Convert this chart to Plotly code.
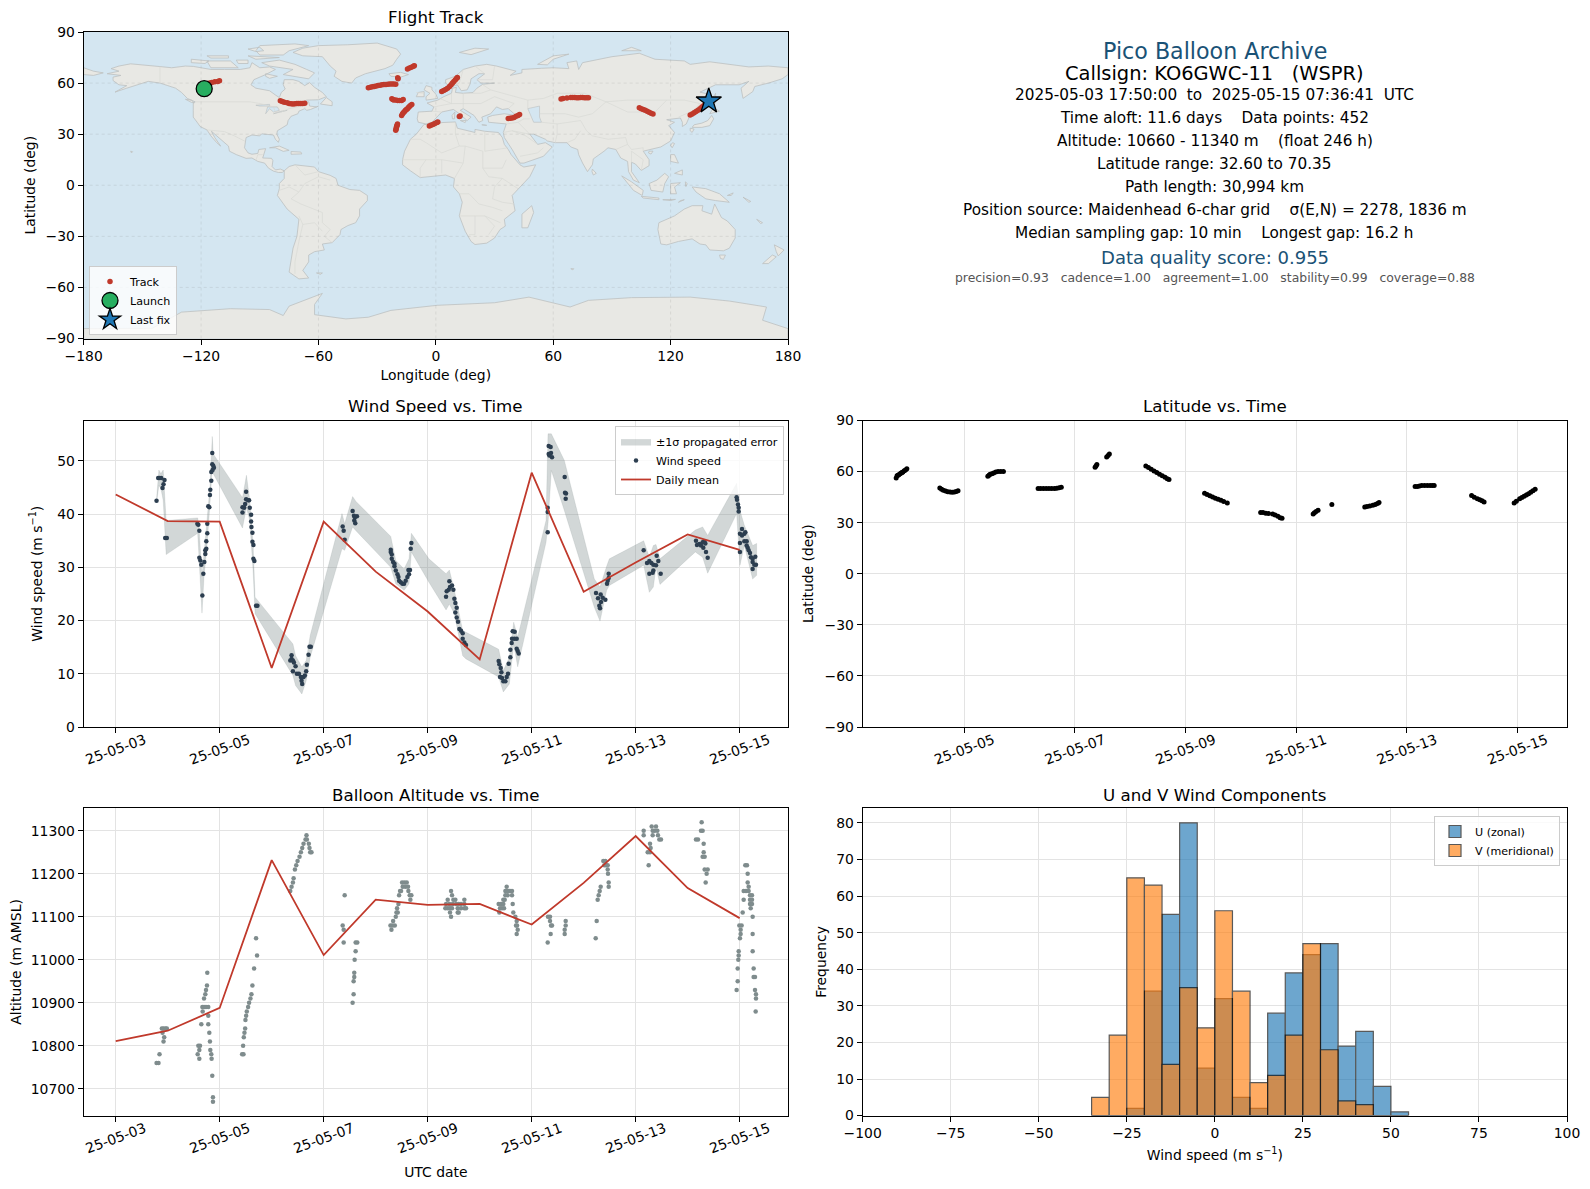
import pandas as pd
import plotly.graph_objects as go

# ------------------------------------------------------------------ data
t0 = pd.Timestamp("2025-05-03")
date_ticks = ["2025-05-%02d" % d for d in (3, 5, 7, 9, 11, 13, 15)]
map_lon_ticks = [-180, -120, -60, 0, 60, 120, 180]
lat_ticks = [-90, -60, -30, 0, 30, 60, 90]
mean_days = [0, 1, 2, 3, 4, 5, 6, 7, 8, 9, 10, 11, 12]
wind_mean = [43.7, 38.7, 38.6, 11.1, 38.6, 29.2, 21.7, 12.7, 47.8, 25.4, 30.9, 36.2, 33.3]
alt_mean = [10811, 10835, 10888, 11232, 11011, 11140, 11128, 11130, 11082, 11179, 11288, 11167, 11097]

band_days = [.785, .83, .868, .913, .97, 1.576, 1.602, 1.659, 1.698, 1.749, 1.812, 1.857, 1.876, 2.438, 2.514, 2.578,
             2.642, 2.68, 3.408, 3.459, 3.58, 3.663, 3.74, 4.352, 4.403, 4.556, 4.62, 5.29, 5.386, 5.546, 5.641, 5.686,
             6.024, 6.353, 6.417, 6.513, 6.673, 6.737, 7.365, 7.455, 7.571, 7.654, 7.731, 8.276, 8.314, 8.378, 8.628,
             9.205, 9.314, 9.442, 9.494, 10.154, 10.263, 10.34, 10.391, 10.468, 11.147, 11.288, 11.385, 11.942, 12.006,
             12.09, 12.25, 12.327]
band_high = [42.9, 48.3, 47.6, 48.3, 38.8, 39.3, 37.6, 28.2, 32.5, 38.8, 45.1, 54.6, 51.3, 43.1, 47.3, 42.6,
             34.4, 24.4, 15.6, 13.4, 11.3, 12.5, 17.2, 40.1, 38.2, 43.3, 42.4, 35.8, 31.3, 29.7, 31.6, 36.4,
             31.6, 28.8, 29.5, 25.7, 18.1, 17.8, 14.6, 10.6, 13.1, 19.7, 16.9, 38.8, 55.1, 55.1, 50.1,
             27.8, 26.3, 30.2, 31.6, 35, 31.9, 34.1, 34.3, 31.6, 37, 37.6, 36, 45.8, 40.7,
             37.9, 34.1, 34.5]
band_low = [42.1, 45.4, 44.8, 42.6, 32.4, 36.4, 31.9, 21.4, 28.2, 33.2, 41.9, 48.8, 47.6, 37.4, 41.3, 38.8,
            29.4, 21.3, 9.7, 7.8, 6.2, 8.7, 13.1, 33.5, 33.2, 37.6, 36.9, 30, 26.9, 25.7, 26.9, 32.9,
            27.2, 22, 23.1, 21.3, 13.4, 12.8, 9.4, 6.6, 8.1, 15.6, 11.3, 34.7, 38.2, 48.2, 40.7,
            22.5, 19.9, 25.7, 26.6, 30.4, 25.3, 26.3, 30, 26.8, 32.9, 31.9, 28.9, 40.1, 30.4,
            34.1, 27.8, 28.5]

wind_days = [.785, .817, .842, .874, .938, .919, .9, .951, .983, 1.57, 1.589, 1.608, 1.608, 1.627, 1.646, 1.666, 1.685,
             1.704, 1.723, 1.723, 1.742, 1.742, 1.761, 1.761, 1.78, 1.8, 1.812, 1.819, 1.838, 1.838, 1.857, 1.857, 1.876,
             1.889, 1.863,
             2.438, 2.438, 2.47, 2.489, 2.508, 2.508, 2.546, 2.565, 2.578, 2.604, 2.604, 2.61, 2.629, 2.629, 2.648, 2.648,
             2.667, 2.699, 2.725,
             3.357, 3.382, 3.382, 3.408, 3.427, 3.459, 3.408, 3.484, 3.523, 3.561, 3.574, 3.586, 3.612, 3.638, 3.663,
             3.676, 3.708, 3.727, 3.752,
             4.365, 4.384, 4.403, 4.556, 4.582, 4.601, 4.639, 4.588, 4.607,
             5.29, 5.29, 5.309, 5.309, 5.335, 5.361, 5.361, 5.386, 5.418, 5.437, 5.45, 5.482, 5.514, 5.546, 5.577, 5.609,
             5.641, 5.66, 5.629, 5.673, 5.686,
             6.353, 6.365, 6.404, 6.429, 6.417, 6.468, 6.494, 6.513, 6.532, 6.558, 6.532, 6.558, 6.583, 6.609, 6.641,
             6.673, 6.673, 6.705, 6.737,
             7.365, 7.378, 7.404, 7.417, 7.391, 7.429, 7.455, 7.494, 7.519, 7.545, 7.558, 7.59, 7.59, 7.615, 7.622, 7.667,
             7.712, 7.635, 7.673, 7.712, 7.731, 7.75,
             8.308, 8.308, 8.308, 8.327, 8.365, 8.327, 8.372, 8.34, 8.391, 8.635, 8.641, 8.66, 8.654,
             9.237, 9.276, 9.327, 9.365, 9.417, 9.333, 9.301, 9.314, 9.449, 9.462, 9.481, 9.481,
             10.154, 10.218, 10.263, 10.301, 10.34, 10.263, 10.327, 10.34, 10.391, 10.404, 10.436, 10.481,
             11.16, 11.179, 11.224, 11.256, 11.288, 11.321, 11.34, 11.301, 11.353, 11.385,
             11.942, 11.949, 11.968, 11.981, 11.981, 12.006, 12.006, 12.006, 12.045, 12.045, 12.09, 12.109, 12.09, 12.135,
             12.135, 12.154, 12.173, 12.199, 12.218, 12.25, 12.301, 12.25, 12.282, 12.314, 12.25]
wind_speed = [42.5, 46.8, 46.8, 46.8, 46.4, 45.6, 44.9, 35.5, 35.5, 38.2, 38, 36.9, 31.8, 31.3, 30.5, 24.7, 28.8,
              31, 32.5, 33.2, 33.5, 34.9, 36.4, 38.2, 41.5, 41.3, 43.6, 44.6, 46.3, 47.9, 51.5, 49.4, 49.1,
              48.7, 48.3,
              40.3, 41.3, 41.2, 41.9, 42.8, 44.2, 42.6, 42.6, 41.2, 39.9, 38.6, 37.6, 36.5, 34.8, 34.2, 31.6,
              31.2, 22.8, 22.8,
              12.5, 13.5, 12.8, 12.5, 12.1, 11.4, 10.5, 10, 10, 9.4, 8.7, 8.1, 9.4, 9.7, 10.5,
              11.7, 13.6, 15.1, 15.1,
              37.7, 36.9, 35.2, 40.6, 39.7, 39.4, 39.6, 38.8, 38.3,
              33.3, 32.9, 32.4, 31.6, 31, 30.7, 30.2, 29.4, 28.7, 28.2, 27.5, 27.2, 26.9, 26.9, 27.5, 28.2,
              28.7, 29.5, 29.5, 33.5, 34.6,
              24.5, 25.5, 25.8, 26.3, 27.4, 26.6, 25.8, 24.1, 23.3, 22.4, 21.5, 20.6, 19.8, 18.4, 18.1,
              17.6, 16.6, 15.9, 15.4,
              12.4, 11.8, 11.1, 10.3, 9.4, 9.2, 8.6, 8.6, 9.4, 10, 11.9, 13.1, 14.5, 15.8, 16.6, 16.6,
              16.6, 18, 17.9, 14.7, 14.3, 13.8,
              41.2, 40.4, 36.6, 52.8, 52.6, 51.3, 51.5, 51, 50.7, 47, 44, 43.9, 42.9,
              25.2, 24.2, 24.9, 24.3, 23.9, 23.5, 22.8, 22.3, 26.9, 27.5, 28.8, 28,
              33.2, 30.8, 31.2, 30.8, 30.5, 28.8, 29, 29.4, 30.4, 32.2, 31.2, 28.8,
              35, 34.2, 34.4, 34.1, 34.7, 34.9, 34.5, 33.7, 32.9, 31.8,
              43.2, 42.7, 41.8, 41.2, 40.5, 32.9, 36.3, 34.6, 37.2, 36, 36.3, 36.6, 34.9, 34.9,
              34.1, 33.7, 33.2, 32.7, 31.9, 31.6, 32, 31, 30.5, 30.5, 29.7]

alt_days = [.785, .823, .842, .887, .919, .957, .983, .9, .932, .919,
            1.576, 1.608, 1.589, 1.621, 1.608, 1.646, 1.672, 1.666, 1.698, 1.736, 1.78, 1.698, 1.723, 1.736, 1.755, 1.761,
            1.78, 1.78, 1.8, 1.812, 1.819, 1.838, 1.844, 1.857, 1.87, 1.87,
            2.431, 2.457, 2.45, 2.463, 2.476, 2.489, 2.495, 2.508, 2.521, 2.546, 2.565, 2.591, 2.61, 2.629, 2.661, 2.718, 2.699,
            3.357, 3.382, 3.408, 3.421, 3.446, 3.472, 3.497, 3.535, 3.561, 3.587, 3.612, 3.65, 3.676, 3.669, 3.714, 3.727,
            3.74, 3.765,
            4.403, 4.365, 4.384, 4.384, 4.614, 4.646, 4.614, 4.595, 4.588, 4.588, 4.575, 4.575, 4.556,
            5.303, 5.284, 5.322, 5.367, 5.335, 5.386, 5.399, 5.424, 5.411, 5.437, 5.45, 5.469, 5.488, 5.52, 5.571, 5.622,
            5.507, 5.552, 5.597, 5.629, 5.654, 5.686, 5.667,
            6.34, 6.385, 6.429, 6.468, 6.385, 6.353, 6.417, 6.481, 6.494, 6.532, 6.449, 6.468, 6.429, 6.449, 6.577, 6.596,
            6.545, 6.596, 6.641, 6.577, 6.641, 6.705, 6.737, 6.705, 6.705,
            7.378, 7.391, 7.429, 7.468, 7.365, 7.41, 7.455, 7.455, 7.481, 7.494, 7.538, 7.622, 7.494, 7.538, 7.583, 7.622,
            7.519, 7.635, 7.647, 7.686, 7.712, 7.699, 7.718, 7.731, 7.712,
            8.308, 8.365, 8.372, 8.391, 8.353, 8.314, 8.353, 8.635, 8.635, 8.654, 8.654,
            9.231, 9.25, 9.269, 9.288, 9.308, 9.327, 9.481, 9.481, 9.468, 9.462, 9.429, 9.462, 9.378, 9.417, 9.397,
            10.154, 10.154, 10.25, 10.231, 10.276, 10.276, 10.288, 10.308, 10.391, 10.327, 10.365, 10.417, 10.327, 10.429,
            10.455, 10.487,
            11.269, 11.256, 11.288, 11.16, 11.199, 11.308, 11.308, 11.288, 11.327, 11.327, 11.385, 11.365, 11.346,
            11.942, 11.962, 11.962, 11.974, 11.981, 11.981, 12.006, 12.019, 12.019, 11.994, 12.038, 12.058, 12.077, 12.077,
            12.122, 12.173, 12.109, 12.141, 12.154, 12.154, 12.173, 12.199, 12.237, 12.199, 12.237, 12.199, 12.237, 12.212,
            12.25, 12.25, 12.25, 12.269, 12.269, 12.295, 12.295, 12.314, 12.314, 12.308]
alt_m = [10760, 10760, 10780, 10840, 10840, 10840, 10840, 10830, 10820, 10810,
         10780, 10770, 10800, 10800, 10790, 10850, 10880, 10890, 10890, 10890, 10890, 10910, 10920, 10930, 10940, 10970,
         10870, 10850, 10830, 10810, 10790, 10780, 10770, 10730, 10680, 10670,
         10780, 10780, 10800, 10820, 10830, 10840, 10860, 10870, 10880, 10890, 10900, 10910, 10920, 10940, 10980, 11010, 11050,
         11160, 11170, 11180, 11190, 11210, 11220, 11230, 11240, 11250, 11260, 11270, 11280, 11280, 11290, 11270, 11260,
         11250, 11250,
         11150, 11080, 11070, 11040, 11040, 11040, 11020, 11000, 10970, 10960, 10950, 10920, 10900,
         11070, 11080, 11080, 11080, 11090, 11100, 11110, 11110, 11120, 11130, 11150, 11160, 11160, 11170, 11170, 11170,
         11180, 11180, 11180, 11160, 11150, 11150, 11140,
         11120, 11120, 11120, 11120, 11140, 11130, 11130, 11130, 11140, 11140, 11160, 11150, 11110, 11100, 11110, 11110,
         11130, 11130, 11130, 11120, 11120, 11120, 11120, 11140, 11130,
         11110, 11120, 11120, 11120, 11130, 11130, 11130, 11140, 11140, 11150, 11150, 11150, 11160, 11160, 11160, 11160,
         11170, 11130, 11110, 11100, 11090, 11080, 11080, 11070, 11060,
         11040, 11060, 11080, 11080, 11090, 11100, 11100, 11060, 11070, 11080, 11090,
         11050, 11090, 11140, 11150, 11160, 11170, 11170, 11180, 11200, 11210, 11220, 11220, 11230, 11230, 11220,
         11290, 11300, 11220, 11250, 11250, 11270, 11260, 11310, 11310, 11300, 11300, 11300, 11290, 11290,
         11280, 11280,
         11320, 11300, 11300, 11280, 11280, 11270, 11250, 11240, 11240, 11210, 11210, 11200, 11180,
         10930, 10950, 10980, 11000, 11010, 11020, 11050, 11060, 11070, 11080, 11080, 11110, 11140, 11160,
         11160, 11160, 11220, 11220, 11200, 11180, 11170, 11150, 11150, 11140, 11140, 11130, 11130, 11120,
         11100, 11060, 11020, 10980, 10960, 10960, 10930, 10920, 10910, 10880]

lat_days = [.769, .785, .8, .817, .84, .858, .875, .89, .915, .938, .962,
            1.558, 1.59, 1.622, 1.662, 1.702, 1.743, 1.783, 1.823, 1.855, 1.887,
            2.426, 2.447, 2.467, 2.5, 2.531, 2.57, 2.611, 2.66, 2.708,
            3.335, 3.38, 3.43, 3.48, 3.53, 3.58, 3.63, 3.673, 3.715, 3.754,
            4.365, 4.381, 4.397, 4.574, 4.6, 4.623,
            5.282, 5.33, 5.38, 5.43, 5.48, 5.53, 5.58, 5.63, 5.67, 5.701,
            6.344, 6.39, 6.44, 6.49, 6.54, 6.59, 6.64, 6.69, 6.755,
            7.358, 7.4, 7.45, 7.5, 7.575, 7.62, 7.67, 7.71, 7.744,
            8.307, 8.33, 8.36, 8.396, 8.645,
            9.24, 9.28, 9.33, 9.385, 9.43, 9.47, 9.498,
            10.15, 10.19, 10.23, 10.27, 10.32, 10.37, 10.42, 10.46, 10.495,
            11.171, 11.22, 11.276, 11.32, 11.36, 11.397,
            11.94, 11.98, 12.04, 12.08, 12.12, 12.16, 12.2, 12.24, 12.28, 12.32]
lat_deg = [56.3, 57.5, 57.9, 58.2, 58.8, 59.2, 59.5, 59.8, 60.5, 61.0, 61.7,
           50.4, 49.6, 49, 48.6, 48.2, 48, 47.8, 48, 48.3, 48.8,
           57.3, 57.9, 58.4, 58.8, 59.2, 59.7, 60, 60, 60,
           50, 50, 50, 50, 50, 50, 50.1, 50.2, 50.5, 50.8,
           62.5, 63.3, 64.1, 68.6, 69.5, 70.3,
           63.3, 62.4, 61.4, 60.4, 59.4, 58.4, 57.5, 56.6, 55.8, 55.3,
           47.3, 46.5, 45.8, 45.1, 44.4, 43.8, 43.1, 42.4, 41.6,
           36, 35.9, 35.6, 35.4, 35.1, 34.5, 33.7, 32.9, 32.6,
           35.1, 35.8, 36.5, 37.3, 40.6,
           39.2, 39.5, 39.8, 40.2, 40.7, 41.3, 41.8,
           51.2, 51.3, 51.5, 51.8, 51.8, 51.9, 51.8, 51.8, 51.8,
           45.9, 45, 44.1, 43.4, 42.8, 42.2,
           41.6, 42.6, 44.1, 44.8, 45.5, 46.2, 47, 47.9, 48.7, 49.6]

track_lon = [-118, -117.5, -116.5, -115.5, -114.5, -113, -111.5, -110.6,
             -79.5, -78.5, -77.5, -76, -75, -74, -73, -72, -71, -70, -69, -68, -67,
             -34.5, -33.5, -32.5, -31.5, -30.5, -29.5, -28.5, -27.5, -26.5, -25.5, -24.5, -23.5, -22.5, -21.5, -20.5,
             -22.5, -22, -21.5, -20.5, -19.5, -18.5, -17.5, -16.7,
             -19.5, -19.3, -14.5, -13.5, -12.5, -11.5, -11,
             3, 4, 5, 6, 7, 7.8, 8.5, 9.2, 10, 10.7, 11,
             -17.5, -17, -16.5, -16, -15.5, -15, -14.5, -14, -13.5, -13, -12.3,
             -20.5, -20.3, -20.2, -20, -19.8, -19.6,
             -3.3, -2.5, -1.5, -0.5, 0.5, 1, 12, 12.4,
             37, 38, 39, 40, 41, 42, 42.8,
             64, 65, 67, 69, 70, 71, 72, 73, 74, 75, 76, 77, 78,
             104, 105, 106, 107, 108, 109, 110, 111,
             130, 131, 132, 133, 134, 135, 136, 137, 138, 139]
track_lat = [57, 58, 59.7, 60, 60.4, 60.8, 61, 61.3,
             49.6, 49.2, 48.8, 48.4, 48, 47.8, 47.7, 47.9, 48, 48, 48, 48, 48.2,
             57.3, 57.6, 57.8, 58, 58.3, 58.6, 58.8, 59, 59.1, 59.2, 59.3, 59.4, 59.4, 59.4, 59.3,
             50.8, 50.4, 50.1, 50, 49.8, 49.7, 49.8, 50.3,
             63.2, 62.6, 68.2, 68.8, 69.3, 69.9, 70.2,
             55, 55.6, 56.2, 57, 58, 59, 60, 61, 62, 62.8, 63.3,
             41, 42, 42.7, 43.3, 44, 44.5, 45, 45.7, 46.3, 46.8, 47.4,
             32.3, 33, 33.8, 34.6, 35.2, 36,
             34.8, 35.3, 35.7, 36.2, 36.8, 37.2, 40.4, 40.6,
             39.2, 39.3, 39.5, 39.8, 40.5, 41, 41.6,
             50.7, 50.9, 51.2, 51.5, 51.5, 51.5, 51.4, 51.4, 51.5, 51.5, 51.4, 51.4, 51.4,
             45.5, 45, 44.5, 44, 43.5, 42.9, 42.3, 41.8,
             41.3, 41.9, 42.6, 43.3, 44, 45, 45.9, 46.8, 47.6, 48.6]
launch_lon, launch_lat = [-118.4], [56.7]
last_lon, last_lat = [139.5], [49.4]

hist_centers = [-32.5, -27.5, -22.5, -17.5, -12.5, -7.5, -2.5, 2.5, 7.5, 12.5, 17.5, 22.5, 27.5, 32.5, 37.5, 42.5, 47.5, 52.5]
u_counts = [0, 0, 2, 34, 55, 80, 13, 32, 5, 2, 28, 39, 44, 47, 19, 23, 8, 1]
v_counts = [5, 22, 65, 63, 14, 35, 24, 56, 34, 9, 11, 22, 47, 18, 4, 3, 0, 0]

# coastlines (lon, lat) read by eye
north_america = [(-168,65.5),(-164,66.5),(-162,67),(-166,68.5),(-162,70),(-156,71.3),(-150,70.5),(-141,69.7),(-135,69),(-128,70),(-124,69.8),(-115,68),(-108,68),(-100,68),(-95,69),(-94,72),(-90,69),(-85,69.5),(-82,68),(-87,65),(-93,62),(-94.5,59),(-92,57),(-85,55.5),(-82,53),(-80,51.5),(-79,54.5),(-77,56.5),(-78,59),(-77.5,62),(-73,62),(-70,61),(-67,58.5),(-64.5,60.3),(-62,57.5),(-58,54.5),(-56,52),(-60,50.2),(-66,50),(-69,48),(-65,49),(-64.5,46.5),(-61,46),(-60,46.5),(-64,44.5),(-66,44),(-67,45),(-70,43.5),(-70.5,42),(-74,40.5),(-75.5,38),(-76,35.5),(-78,34),(-81,32),(-81.3,30),(-80,27),(-80.5,25.2),(-82,27),(-83,29.5),(-85,29.7),(-89,30.2),(-90,29),(-94,29.5),(-97,28),(-97.5,25),(-97.8,22),(-96,19),(-94,18.2),(-91,18.7),(-90.5,21),(-87,21.5),(-88,18),(-88.5,16),(-84,15.8),(-83.3,14.5),(-83.7,11),(-82,9),(-79.5,9.5),(-77.5,8.5),(-78.5,7.5),(-80.5,7.5),(-83,8.3),(-85.5,10),(-87.5,13),(-91,14),(-94,16),(-97,15.8),(-102,18),(-105.5,20),(-106,23),(-109,26),(-112.5,30),(-114.7,31.7),(-113,28),(-110,23),(-112,25),(-115,29),(-117,32.5),(-120.5,34.5),(-122,37),(-124,40),(-124,44),(-124,48.3),(-123,49),(-127,51),(-130,54.5),(-133,57),(-137,58.5),(-141,60),(-147,61),(-152,59),(-158,57),(-164,54.7),(-158,58.5),(-162,59),(-165,61.5),(-165,63.5),(-161,64.5),(-168,65.5)]
greenland = [(-73,78),(-68,76),(-58,75.5),(-54,70),(-51,67),(-52,64),(-48,61),(-43,60),(-41,63),(-36,65.5),(-26,68.5),(-22,70.5),(-20,74),(-18,77),(-20,80),(-30,83.5),(-45,82.5),(-60,82),(-68,80.5),(-73,78)]
baffin = [(-80,73.5),(-72,71),(-66,68),(-62,66),(-65,62.5),(-72,64),(-78,65),(-73,68),(-85,70),(-89,72),(-80,73.5)]
ellesmere = [(-90,76.5),(-78,76.5),(-75,79),(-65,82),(-72,83),(-90,82),(-92,79),(-90,76.5)]
axel_heiberg = [(-96,80),(-90,81),(-88,79),(-92,78.5),(-96,80)]
victoria_isl = [(-117,73),(-105,73),(-101,69),(-115,69),(-117,73)]
banks_isl = [(-125,74),(-116,73),(-118,71.5),(-125,72),(-125,74)]
devon_isl = [(-96,76),(-80,75),(-92,74),(-96,76)]
melville_isl = [(-117,76),(-106,76),(-106,74.7),(-115,74.7),(-117,76)]
prince_of_wales_isl = [(-102,73.5),(-96,73.5),(-96,71.5),(-101,71.5),(-102,73.5)]
southampton_isl = [(-87,65.5),(-81,64),(-85,62.8),(-87,64),(-87,65.5)]
newfoundland = [(-59,47.7),(-53,46.7),(-53,49),(-56,51.5),(-59,47.7)]
vancouver_isl = [(-128,50.5),(-125,50),(-123.5,48.5),(-125,48.7),(-128,50.5)]
hawaii = [(-156,20),(-155,19.7),(-155.6,19),(-156,20)]
cuba = [(-85,22),(-80,23),(-75,20.5),(-78,19.9),(-82,22),(-85,22)]
hispaniola = [(-74,19.8),(-69,19.5),(-68.5,18.4),(-74,18.2),(-74,19.8)]
south_america = [(-77.5,8.5),(-75,11),(-72,12),(-68,11.5),(-62,10.7),(-60,8),(-54,5.8),(-51,4),(-50,0),(-44,-2.5),(-39,-3),(-35,-6),(-35,-9),(-39,-14),(-39,-18),(-41,-22),(-45,-23.7),(-48.5,-26),(-49,-29),(-53,-33.7),(-58,-34.5),(-57,-38),(-62,-39),(-65,-41),(-65,-45),(-68,-50),(-65,-54.5),(-70,-55),(-75,-51),(-74,-44),(-73,-37),(-71,-30),(-70,-20),(-76,-14),(-81,-6),(-80,-2),(-80,1),(-77.5,4),(-77.5,8.5)]
falklands = [(-61,-51.5),(-58,-51.5),(-59,-52.3),(-61,-51.5)]
africa = [(-6,35.8),(-2,35),(3,36.8),(10,37.2),(11,33.5),(15,32.3),(20,31),(20,32.8),(25,31.7),(32,31),(34,28),(35,24),(37,21),(38.5,18),(43,12),(45,10.7),(51,12),(48,5),(42,-2),(39,-6),(40.5,-15),(35,-20),(35.5,-24),(32.8,-26),(30,-31),(26,-34),(20,-34.8),(18,-33),(15,-27),(12,-18),(13.5,-10),(12,-5),(9,-1),(9.5,4),(5,6),(-4,5),(-8,4.5),(-13,8.5),(-17,12),(-17,15),(-16,20),(-13,27),(-10,30),(-6,35.8)]
madagascar = [(49,-12),(50,-16),(47,-25),(44,-25),(44,-17),(49,-12)]
eurasia = [(-9,37),(-9.5,39),(-9,43),(-2,43.5),(-1,46),(-4.5,48.3),(1,50),(4,52),(8,54),(8.5,57),(10.5,57.5),(10,54.5),(14,54),(19,54.5),(21,57),(24,59.3),(30,60),(23,60),(21,62),(25,65.5),(22,65.5),(18,62.5),(17.5,59.5),(16,56),(13,55.5),(11,59),(7,58),(5,60),(5,62),(10,64),(14,68),(20,70),(26,71),(31,70),(41,67),(38,64.5),(44,66),(44,68),(54,68.7),(60,69),(68,68.5),(67,72),(72,73),(73,68),(75,72),(82,73.5),(90,75.5),(104,77.5),(112,74),(127,73),(130,71),(140,72.5),(160,69.5),(170,70),(180,69),(180,65),(177,62.5),(170,60),(163,58),(162,55),(157,51),(156,57),(160,61),(155,59),(143,59),(135,54.7),(141,53),(138,46.5),(132,43),(129.5,40),(128,36),(126,34.5),(126,37),(125,39.5),(121,39),(118,38.5),(122,37),(119,35),(122,31),(120,26),(115,22.5),(110,21),(106,20),(109,15),(109,11.5),(105,8.7),(102,12.5),(100,13.5),(100,8),(104,1.5),(101,3),(98.5,8),(98,14),(94.5,16),(92,21),(88,22),(86,20),(80.5,15.5),(80,12),(77.5,8),(75,13),(73,18),(72.5,21),(69,22.5),(67,25),(61,25),(57,26),(56,27),(50,30),(48,30),(51,26),(52,24),(56,25),(59.5,22.5),(55,17),(45,13),(43,13),(39,21),(35,28),(34.5,31),(36,36),(30,36.5),(27,37),(26.5,40),(29,41),(35,42),(41,41),(37,45),(34,44.5),(31,46),(28,42),(23.5,40),(24,38),(22,37),(19.5,41),(14,45),(12.5,44),(18,40),(16,38),(12,42),(9,44.5),(3,43),(0,39.5),(-2,37),(-5,36),(-9,37)]
chukotka = [(-180,69),(-175,67),(-170,66),(-175,64.5),(-180,65),(-180,69)]
britain = [(-5,50),(1,51),(0,53.5),(-2,56),(-2,57.5),(-5,58.5),(-6,56),(-3,54),(-5,52),(-5,50)]
ireland = [(-10,52),(-6,52),(-6,55),(-9,54.5),(-10,52)]
iceland = [(-24,65.5),(-18,66.3),(-14,65),(-18,63.5),(-23,64),(-24,65.5)]
svalbard = [(12,78),(20,80.5),(27,80),(18,76.7),(12,78)]
novaya_zemlya = [(52,71),(57,70.7),(60,74),(68,77),(60,76),(52,71)]
severnaya = [(95,79),(105,79),(100,81),(95,79)]
sicily = [(12.5,38),(15.5,38),(15,36.8),(12.5,38)]
sardinia_corsica = [(8.3,41),(9.7,43),(9.5,39),(8.5,39),(8.3,41)]
crete = [(23.5,35.5),(26,35.2),(24,35),(23.5,35.5)]
japan_honshu = [(131,34),(136,34),(140,35),(142,39),(141,41),(139,38),(136,36.5),(132,35.5),(131,34)]
hokkaido = [(140,42),(142,45.5),(145,43.5),(141,42),(140,42)]
kyushu = [(130,33.5),(132,33),(131,31),(130,32),(130,33.5)]
sakhalin = [(142,46),(143,49),(143,54),(142,52),(142,46)]
sri_lanka = [(80,9.5),(82,7),(80.5,6),(79.8,8),(80,9.5)]
taiwan = [(121,25),(122,24.5),(120.8,22),(120,23.5),(121,25)]
hainan = [(109,20),(111,20),(110,18.3),(108.7,19),(109,20)]
borneo = [(109,1),(113,3),(117,7),(119,5),(117,1),(116,-4),(110,-3),(109,1)]
sumatra = [(95,5.5),(100,2),(106,-3),(105.5,-6),(101,-3),(95,5.5)]
java = [(105,-6.5),(114,-7.5),(114,-8.5),(106,-7.5),(105,-6.5)]
timor = [(124,-10),(127,-8.5),(125,-9),(124,-10)]
flores = [(116,-8.5),(122.5,-8.3),(120,-9),(116,-8.5)]
sulawesi = [(120,1),(125,1.5),(122,-1),(123,-5),(120,-5),(120,1)]
halmahera = [(127.5,2),(128.5,1),(127.8,-0.8),(127.5,2)]
new_guinea = [(131,-1),(138,-2),(145,-5),(150,-10),(143,-9),(138,-8),(133,-4),(131,-1)]
new_britain = [(149,-6),(152,-4.5),(151,-6),(149,-6)]
solomon_isl = [(157,-7),(161,-9.5),(160,-10),(157,-7)]
new_caledonia = [(164,-20),(167,-22),(166,-22.5),(164,-20)]
luzon = [(120,18),(122,18),(124,13),(120,14),(120,18)]
mindanao = [(122,7),(126,9),(126,6),(122,7)]
australia = [(114,-22),(113.5,-26),(115,-34.5),(118,-35),(124,-33),(131,-31.5),(135,-34.5),(138,-35),(140,-38),(147,-38.5),(150,-37),(153,-31),(153,-26),(149,-21),(146,-19),(142.5,-11),(141,-17),(136,-15),(136.5,-12),(131,-12),(127,-14),(122,-18),(114,-22)]
tasmania = [(145,-41),(148,-41),(147,-43.5),(145.5,-43),(145,-41)]
nz_north = [(173,-35),(178,-38),(175,-41.5),(174,-39),(173,-35)]
nz_south = [(172,-41),(174,-42),(170,-46),(167,-46),(172,-41)]
kerguelen = [(69,-49),(70.5,-49),(70,-49.7),(69,-49)]
antarctica = [(-180,-84.2),(-145,-84),(-130,-74.5),(-105,-72.5),(-85,-73),(-78,-76.5),(-75,-71),(-62,-65),(-58,-63.5),(-62,-70),(-62,-76),(-46,-78.5),(-34.5,-77.5),(-23,-73.5),(0.7,-70.5),(30,-69),(47.6,-65.7),(68.6,-71.5),(78,-67.6),(100,-66),(130,-65.7),(150,-68),(169,-71.5),(167,-79.3),(180,-84.2),(180,-90),(-180,-90),(-180,-84.2)]
caspian_sea = [(47,45),(53,46.5),(53,40),(54,37),(50,37),(49,40),(47,45)]
lake_superior = [(-92,47),(-85,47.5),(-85,46.5),(-90,46.5),(-92,47)]
lakes_huron_michigan = [(-87,42),(-86,46),(-81,46),(-80,44),(-83,43),(-85,45),(-87,42)]
lake_erie_ontario = [(-83,42),(-79,43.5),(-76,44),(-79,43),(-83,42)]
borders = [
    [(-123,49),(-95,49),(-90,48),(-83,46),(-82,43),(-79,43),(-75,45),(-70,46),(-67,47),(-67,45)],
    [(-141,60),(-141,69.7)], [(-117,32.5),(-108,31.5),(-103,29),(-97.5,25.8)],
    [(-92,14.5),(-91,18),(-88.5,18)], [(-72,12),(-67,6),(-60,8)], [(-70,-4),(-67,1),(-60,5),(-54,3)],
    [(-70,-4),(-74,-8),(-69,-11),(-58,-16),(-58,-22),(-54,-26),(-57,-30),(-53,-33.7)],
    [(-80,-3),(-75,-1),(-70,-4)], [(-70,-18),(-68,-23),(-70,-33),(-72,-45),(-72,-52)], [(-68,-23),(-62,-22),(-58,-27)],
    [(-13,27),(-8,27),(-5,25),(3,19),(12,23),(10,30),(10,37)], [(25,31.7),(25,20),(37,22)], [(12,23),(15,23),(24,20),(24,10),(34,10),(36,15)],
    [(-17,15),(-5,15),(3,15),(14,13),(15,23)], [(-8,4.5),(-8,10),(-5,15)], [(3,7),(3,15)], [(9.5,4),(14,13)],
    [(24,10),(27,5),(34,4),(42,-2)], [(34,4),(30,-1),(29,-8),(34,-10),(40,-11)], [(12,-5),(17,-5),(22,-11),(29,-13),(34,-15)],
    [(12,-18),(20,-18),(25,-18),(33,-22)], [(20,-18),(20,-29),(17,-29)], [(25,-18),(30,-24),(27,-29)],
    [(-2,43.5),(3,43)], [(-1,46),(8,48),(8,54)], [(2,51),(8,48)], [(14,54),(14,45)], [(8,48),(14,48),(23,48),(30,52),(35,50),(40,48),(37,45)],
    [(24,59),(28,56),(23,54),(14,54)], [(28,56),(40,52),(47,50),(55,51),(62,54),(76,54),(87,49),(98,50),(108,50),(118,50),(127,50),(135,48),(131,43)],
    [(47,45),(47,50)], [(53,42),(66,42),(73,40),(80,42),(87,49)], [(54,37),(62,36),(74,38)], [(87,49),(98,43),(112,43),(118,50)], [(61,25),(62,30),(62,36)],
    [(74,38),(77,32),(80,29),(88,27),(97,28),(98,24),(100,21),(106,22),(106,20)], [(67,25),(71,27),(74,32)], [(92,21),(98,24)], [(100,13.5),(100,20)], [(105,8.7),(106,15),(100,20)],
    [(36,36),(42,37),(45,39),(48,39)], [(42,37),(48,30)], [(34.5,31),(39,32),(48,30)], [(39,32),(46,29),(52,24)], [(43,17),(52,19),(55,22)], [(124,40),(130,43)],
    [(-10,54.5),(-6,54)], [(21,62),(29,62),(30,70)], [(14,68),(12,60),(11,59)], [(20,70),(25,66),(25,65.5)],
]

# ------------------------------------------------------------------ helpers
def dates(days):
    return [(t0 + pd.Timedelta(days=d)).isoformat() for d in days]

W, H = 1590, 1189
def fx(px): return px / W
def fy(py): return 1 - py / H

def join(polys):
    xs, ys = [], []
    for p in polys:
        xs += [a for a, _ in p] + [None]
        ys += [b for _, b in p] + [None]
    return xs, ys

FONT = "DejaVu Sans"
RED = "#c0392b"
NAVY = "#1a5276"
GRID = "#e3e3e3"
OCEAN = "#d4e6f1"

fig = go.Figure()

# map ----------------------------------------------------------------------
land = [north_america, greenland, baffin, ellesmere, axel_heiberg, victoria_isl, banks_isl, devon_isl, melville_isl,
        prince_of_wales_isl, southampton_isl, newfoundland, vancouver_isl, hawaii, cuba, hispaniola, south_america,
        falklands, africa, madagascar, eurasia, chukotka, britain, ireland, iceland, svalbard, novaya_zemlya, severnaya,
        sicily, sardinia_corsica, crete, japan_honshu, hokkaido, kyushu, sakhalin, sri_lanka, taiwan, hainan, borneo,
        sumatra, java, timor, flores, sulawesi, halmahera, new_guinea, new_britain, solomon_isl, new_caledonia, luzon,
        mindanao, australia, tasmania, nz_north, nz_south, kerguelen, antarctica]
lx, ly = join(land)
fig.add_trace(go.Scatter(x=lx, y=ly, mode="lines", fill="toself", fillcolor="#e8e8e4",
                         line=dict(color="#bcc0c0", width=0.8), hoverinfo="skip", showlegend=False, xaxis="x", yaxis="y"))
wx, wy = join([caspian_sea, lake_superior, lakes_huron_michigan, lake_erie_ontario])
fig.add_trace(go.Scatter(x=wx, y=wy, mode="lines", fill="toself", fillcolor=OCEAN,
                         line=dict(color="#bcc0c0", width=0.6), hoverinfo="skip", showlegend=False, xaxis="x", yaxis="y"))
bx, by = join(borders)
fig.add_trace(go.Scatter(x=bx, y=by, mode="lines", line=dict(color="#d9dad6", width=0.7), hoverinfo="skip",
                         showlegend=False, xaxis="x", yaxis="y"))
fig.add_trace(go.Scatter(x=track_lon, y=track_lat, mode="markers", name="Track", legend="legend2",
                         marker=dict(color=RED, size=5.5), xaxis="x", yaxis="y"))
fig.add_trace(go.Scatter(x=launch_lon, y=launch_lat, mode="markers", name="Launch", legend="legend2",
                         marker=dict(color="#27ae60", size=16, line=dict(color="black", width=1.3)), xaxis="x", yaxis="y"))
fig.add_trace(go.Scatter(x=last_lon, y=last_lat, mode="markers", name="Last fix", legend="legend2",
                         marker=dict(color="#1f77b4", size=19, symbol="star", line=dict(color="black", width=1.3)), xaxis="x", yaxis="y"))

# wind ---------------------------------------------------------------------
bt = dates(band_days)
fig.add_trace(go.Scatter(x=bt + bt[::-1], y=band_high + band_low[::-1], mode="lines", fill="toself",
                         fillcolor="rgba(127,140,141,0.35)", line=dict(color="rgba(127,140,141,0.2)", width=0.8),
                         name="±1σ propagated error", hoverinfo="skip", xaxis="x2", yaxis="y2"))
fig.add_trace(go.Scatter(x=dates(wind_days), y=wind_speed, mode="markers", name="Wind speed",
                         marker=dict(color="#2c3e50", size=4.5), xaxis="x2", yaxis="y2"))
fig.add_trace(go.Scatter(x=dates(mean_days), y=wind_mean, mode="lines", name="Daily mean",
                         line=dict(color=RED, width=1.8), xaxis="x2", yaxis="y2"))

# latitude -----------------------------------------------------------------
fig.add_trace(go.Scatter(x=dates(lat_days), y=lat_deg, mode="markers", marker=dict(color="black", size=5),
                         showlegend=False, xaxis="x3", yaxis="y3"))

# altitude -----------------------------------------------------------------
fig.add_trace(go.Scatter(x=dates(alt_days), y=alt_m, mode="markers", marker=dict(color="#7f8c8d", size=4.5),
                         showlegend=False, xaxis="x4", yaxis="y4"))
fig.add_trace(go.Scatter(x=dates(mean_days), y=alt_mean, mode="lines", line=dict(color=RED, width=1.8),
                         showlegend=False, xaxis="x4", yaxis="y4"))

# histogram ----------------------------------------------------------------
fig.add_trace(go.Bar(x=hist_centers, y=u_counts, width=5, name="U (zonal)", legend="legend3", opacity=0.65,
                     marker=dict(color="#1f77b4", line=dict(color="black", width=1.2)), xaxis="x5", yaxis="y5"))
fig.add_trace(go.Bar(x=hist_centers, y=v_counts, width=5, name="V (meridional)", legend="legend3", opacity=0.65,
                     marker=dict(color="#ff7f0e", line=dict(color="black", width=1.2)), xaxis="x5", yaxis="y5"))

# layout -------------------------------------------------------------------
TICK = 13.9
def axis(**kw):
    base = dict(showline=True, linecolor="black", linewidth=1, mirror=True, ticks="outside", ticklen=5, tickwidth=1,
                tickcolor="black", showgrid=True, gridcolor=GRID, gridwidth=1, zeroline=False,
                tickfont=dict(family=FONT, size=TICK, color="black"), automargin=False)
    base.update(kw)
    return base

def ttl(text, standoff):
    return dict(text=text, font=dict(family=FONT, size=TICK, color="black"), standoff=standoff)

LC = [fx(83.7), fx(788)]
RC = [fx(862.7), fx(1567)]
R1 = [fy(338.5), fy(32)]
R2 = [fy(727), fy(420.5)]
R3 = [fy(1115.6), fy(808.3)]
date_axis = dict(type="date", tickvals=date_ticks, tickformat="%y-%m-%d", tickangle=-20, ticklabelshift=29, ticklabelstandoff=-6)
wide = ["2025-05-02T09:13", "2025-05-15T22:19"]

map_shapes = [dict(type="rect", xref="x", yref="y", x0=-180, x1=180, y0=-90, y1=90, layer="below",
                   fillcolor=OCEAN, line=dict(width=0))]
for lon in map_lon_ticks[1:-1]:
    map_shapes.append(dict(type="line", xref="x", yref="y", x0=lon, x1=lon, y0=-90, y1=90, layer="above",
                           line=dict(color="rgba(120,120,120,0.2)", width=0.8, dash="dot")))
for lat in lat_ticks[1:-1]:
    map_shapes.append(dict(type="line", xref="x", yref="y", x0=-180, x1=180, y0=lat, y1=lat, layer="above",
                           line=dict(color="rgba(120,120,120,0.2)", width=0.8, dash="dot")))

legend_base = dict(bgcolor="rgba(255,255,255,0.8)", bordercolor="#cccccc", borderwidth=1,
                   font=dict(family=FONT, size=11.1, color="black"), tracegroupgap=0, itemwidth=30)
layout = dict(
    width=W, height=H, margin=dict(l=0, r=0, t=0, b=0), paper_bgcolor="white", plot_bgcolor="white",
    font=dict(family=FONT, size=TICK, color="black"), barmode="overlay", hovermode="closest", shapes=map_shapes,
    xaxis=axis(domain=LC, anchor="y", range=[-180, 180], tickvals=map_lon_ticks, title=ttl("Longitude (deg)", 7), showgrid=False),
    yaxis=axis(domain=R1, anchor="x", range=[-90, 90], tickvals=lat_ticks, title=ttl("Latitude (deg)", 6), showgrid=False),
    xaxis2=axis(domain=LC, anchor="y2", range=wide, **date_axis),
    yaxis2=axis(domain=R2, anchor="x2", range=[0, 57.6], tickvals=[0, 10, 20, 30, 40, 50], title=ttl("Wind speed (m s<sup>−1</sup>)", 11)),
    xaxis3=axis(domain=RC, anchor="y3", range=["2025-05-03T03:56", "2025-05-15T21:30"], **date_axis),
    yaxis3=axis(domain=R2, anchor="x3", range=[-90, 90], tickvals=lat_ticks, title=ttl("Latitude (deg)", 7)),
    xaxis4=axis(domain=LC, anchor="y4", range=wide, title=ttl("UTC date", 12), **date_axis),
    yaxis4=axis(domain=R3, anchor="x4", range=[10637.5, 11352.5], tickvals=[10700, 10800, 10900, 11000, 11100, 11200, 11300], tickformat="d", title=ttl("Altitude (m AMSL)", 5)),
    xaxis5=axis(domain=RC, anchor="y5", range=[-100, 100], tickvals=[-100, -75, -50, -25, 0, 25, 50, 75, 100], title=ttl("Wind speed (m s<sup>−1</sup>)", 9)),
    yaxis5=axis(domain=R3, anchor="x5", range=[0, 84], tickvals=[0, 10, 20, 30, 40, 50, 60, 70, 80], title=ttl("Frequency", 6)),
    legend=dict(x=fx(784), y=fy(426), xanchor="right", yanchor="top", **legend_base),
    legend2=dict(x=fx(89), y=fy(335), xanchor="left", yanchor="bottom", **legend_base),
    legend3=dict(x=fx(1560), y=fy(816), xanchor="right", yanchor="top", **legend_base),
)

annotations = []
def note(text, px, py, size, color="black"):
    annotations.append(dict(text=text, x=fx(px), y=fy(py), xref="paper", yref="paper", xanchor="center", yanchor="middle",
                            showarrow=False, font=dict(family=FONT, size=size, color=color)))

note("Flight Track", 435.5, 18, 16.67)
note("Wind Speed vs. Time", 435.5, 406, 16.67)
note("Latitude vs. Time", 1214.5, 406, 16.67)
note("Balloon Altitude vs. Time", 435.5, 795, 16.67)
note("U and V Wind Components", 1214.5, 795, 16.67)

N = "\u00a0"
note("Pico Balloon Archive", 1214.5, 51, 22.2, NAVY)
note(f"Callsign: KO6GWC-11{N}{N}{N}(WSPR)", 1214.5, 73.5, 19.44)
info_lines = [
    f"2025-05-03 17:50:00{N}{N}to{N}{N}2025-05-15 07:36:41{N}{N}UTC",
    f"Time aloft: 11.6 days{N}{N}{N}{N}Data points: 452",
    f"Altitude: 10660 - 11340 m{N}{N}{N}{N}(float 246 h)",
    "Latitude range: 32.60 to 70.35",
    "Path length: 30,994 km",
    f"Position source: Maidenhead 6-char grid{N}{N}{N}{N}σ(E,N) = 2278, 1836 m",
    f"Median sampling gap: 10 min{N}{N}{N}{N}Longest gap: 16.2 h",
]
for line, py in zip(info_lines, [95, 118, 141, 164, 187, 210, 233]):
    note(line, 1214.5, py, 15.28)
note("Data quality score: 0.955", 1214.5, 257.5, 18.05, NAVY)
note(f"precision=0.93{N}{N}{N}cadence=1.00{N}{N}{N}agreement=1.00{N}{N}{N}stability=0.99{N}{N}{N}coverage=0.88", 1214.5, 278, 12.4, "#555555")

fig.update_layout(**layout, annotations=annotations)
fig.write_html("out.html", config=dict(displayModeBar=False),
               post_script="document.body.style.margin='0';document.documentElement.style.overflow='hidden';")
